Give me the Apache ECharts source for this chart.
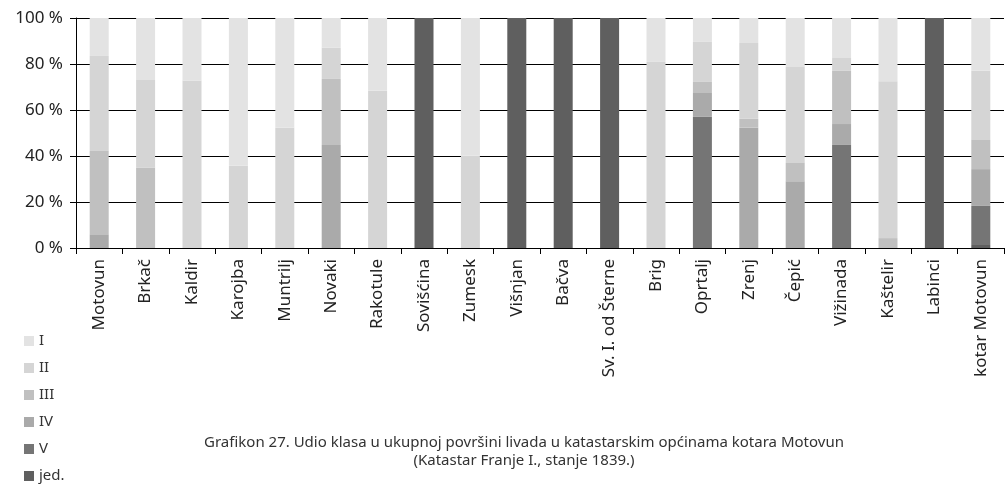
<!DOCTYPE html>
<html>
<head>
<meta charset="utf-8">
<script src="https://cdn.jsdelivr.net/npm/echarts@6/dist/echarts.min.js"></script>
<style>
  html, body { margin: 0; padding: 0; background: #fff; }
  #chart { width: 1005px; height: 485px; }
</style>
</head>
<body>
<div id="chart"></div>
<script>
const categories = [
  "Motovun", "Brkač", "Kaldir", "Karojba", "Muntrilj", "Novaki", "Rakotule",
  "Sovišćina", "Zumesk", "Višnjan", "Bačva", "Sv. I. od Šterne", "Brig",
  "Oprtalj", "Zrenj", "Čepić", "Vižinada", "Kaštelir", "Labinci", "kotar Motovun"
];

// shares in percent
const jed      = [0, 0, 0, 0, 0, 0, 0, 100, 0, 100, 100, 100, 0, 0, 0, 0, 0, 0, 100, 1.3];
const klasaV   = [0, 0, 0, 0, 0, 0, 0, 0, 0, 0, 0, 0, 0, 57.0, 0, 0, 44.8, 0, 0, 17.0];
const klasaIV  = [5.7, 0, 0, 0, 0, 44.8, 0, 0, 0, 0, 0, 0, 0, 10.4, 52.3, 29.0, 9.1, 0, 0, 16.0];
const klasaIII = [36.5, 35.0, 0, 0, 0, 28.7, 0, 0, 0, 0, 0, 0, 0, 4.8, 3.9, 8.0, 23.1, 4.3, 0, 12.7];
const klasaII  = [41.3, 38.0, 72.8, 35.8, 52.3, 13.6, 68.4, 0, 40.1, 0, 0, 0, 80.9, 17.4, 32.9, 41.7, 5.6, 68.2, 0, 30.1];
const klasaI   = [16.5, 27.0, 27.2, 64.2, 47.7, 12.9, 31.6, 0, 59.9, 0, 0, 0, 19.1, 10.4, 10.9, 21.3, 17.4, 27.5, 0, 22.9];

const legendOrder = ["I", "II", "III", "IV", "V", "jed."];
const yTicks = [0, 20, 40, 60, 80, 100];

const FONT = "Noto Sans";

const chart = echarts.init(document.getElementById("chart"), null, { renderer: "canvas" });

function bar(name, data, color) {
  return {
    name: name,
    type: "bar",
    stack: "total",
    barWidth: 19,
    itemStyle: { color: color },
    emphasis: { disabled: true },
    data: data,
  };
}

const option = {
  backgroundColor: "#fff",
  animation: false,
  title: {
    text: "Grafikon 27. Udio klasa u ukupnoj površini livada u katastarskim općinama kotara Motovun\n(Katastar Franje I., stanje 1839.)",
    left: 519,
    top: 429,
    textAlign: "center",
    textStyle: {
      fontFamily: FONT,
      fontSize: 15,
      fontWeight: "normal",
      color: "#333",
      lineHeight: 18,
      align: "center",
    },
  },
  legend: {
    data: legendOrder,
    orient: "vertical",
    left: 24,
    top: 333,
    padding: 0,
    height: 160,
    itemWidth: 10,
    itemHeight: 10,
    itemGap: 11,
    icon: "rect",
    textStyle: {
      fontFamily: FONT,
      fontSize: 15,
      lineHeight: 16,
      color: "#333",
    },
  },
  grid: {
    left: 76,
    right: 1,
    top: 18,
    bottom: 237,
    containLabel: false,
  },
  xAxis: {
    type: "category",
    data: categories,
    axisLine: { lineStyle: { color: "#000", width: 1 } },
    axisTick: { show: true, length: 6, lineStyle: { color: "#000" } },
    axisLabel: {
      interval: 0,
      rotate: 90,
      margin: 11,
      fontFamily: FONT,
      fontSize: 17,
      color: "#222",
    },
  },
  yAxis: {
    type: "value",
    min: 0,
    max: 100,
    interval: 20,
    axisLine: { show: true, lineStyle: { color: "#000", width: 1 } },
    axisTick: { show: true, length: 6, lineStyle: { color: "#000" } },
    splitLine: { show: true, lineStyle: { color: "#000", width: 1 } },
    axisLabel: {
      margin: 13,
      fontFamily: FONT,
      fontSize: 17,
      color: "#222",
      formatter: (v) => (yTicks.includes(v) ? v + " %" : ""),
    },
  },
  series: [
    bar("jed.", jed, "#5f5f5f"),
    bar("V", klasaV, "#757575"),
    bar("IV", klasaIV, "#aaaaaa"),
    bar("III", klasaIII, "#c0c0c0"),
    bar("II", klasaII, "#d5d5d5"),
    bar("I", klasaI, "#e3e3e3"),
  ],
};

chart.setOption(option);
</script>
</body>
</html>
